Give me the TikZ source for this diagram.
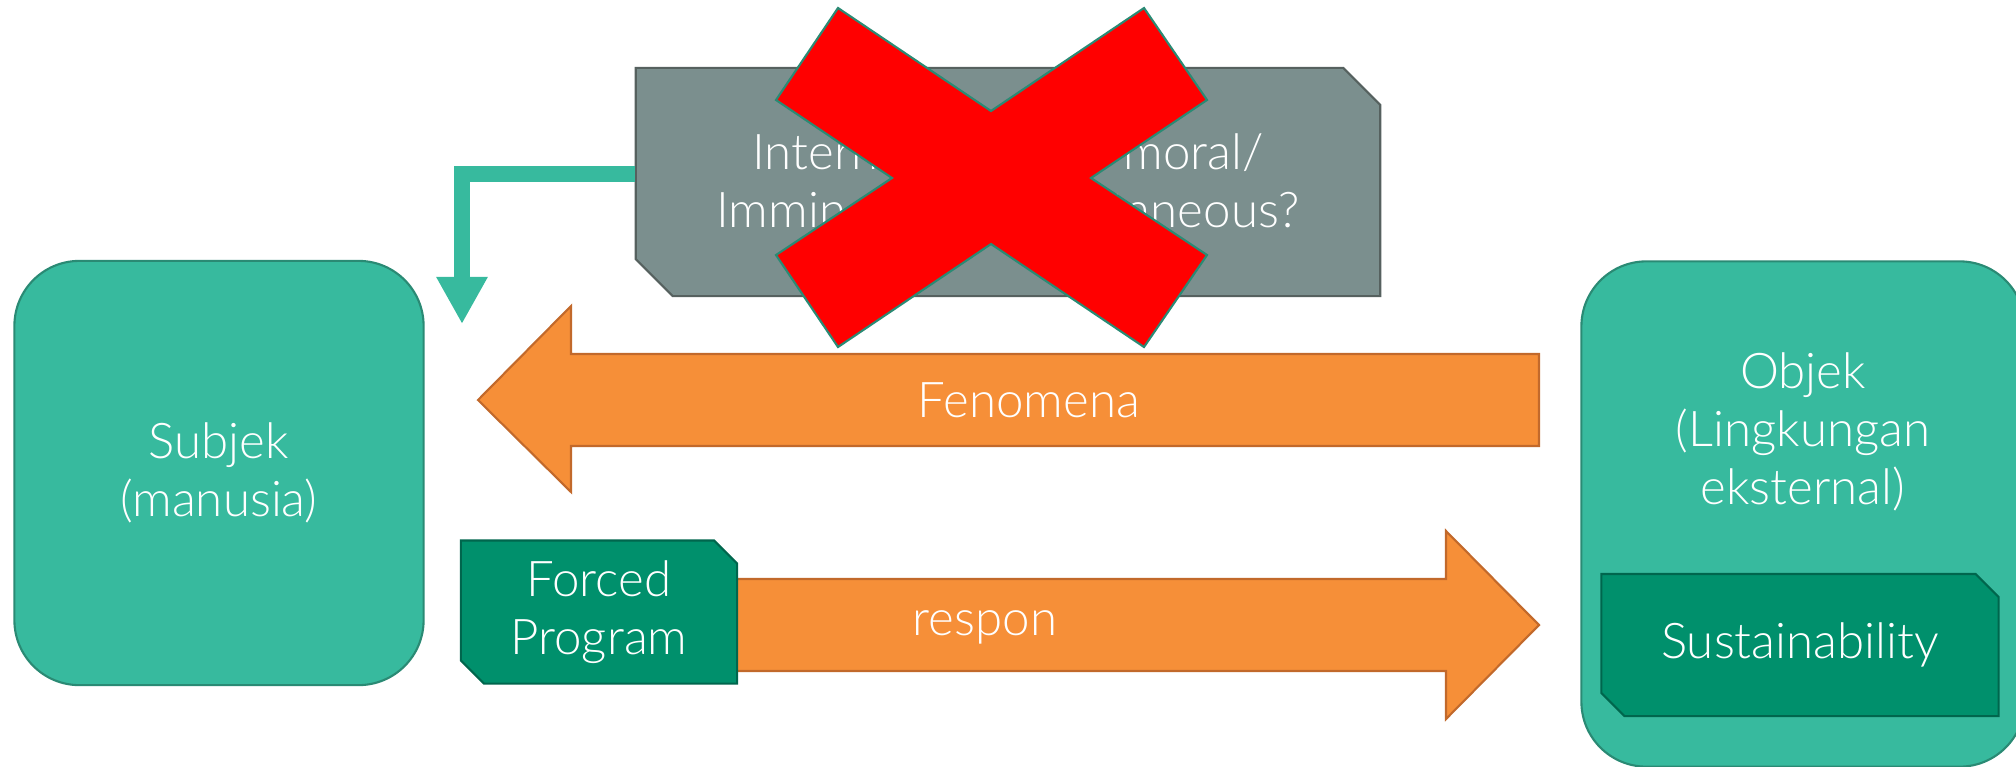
\documentclass[tikz,border=0pt]{standalone}
\usepackage{fontspec}
\setmainfont{Lato}[UprightFont=* Light]
\usetikzlibrary{shapes.misc, arrows.meta, calc}

\definecolor{tosca}{HTML}{37BA9E}
\definecolor{toscaline}{HTML}{2A8A74}
\definecolor{hijau}{HTML}{00906C}
\definecolor{hijauline}{HTML}{00664D}
\definecolor{oranye}{HTML}{F68F38}
\definecolor{oranyeline}{HTML}{C2692B}
\definecolor{abu}{HTML}{7B8F8E}
\definecolor{abuline}{HTML}{56615F}
\definecolor{merah}{HTML}{FF0000}

\begin{document}
\begin{tikzpicture}[x=0.01cm, y=-0.01cm, font=\fontsize{14}{16.5}\selectfont,
    kotak/.style={rectangle, rounded corners=0.65cm, fill=tosca, draw=toscaline, line width=0.6pt, text=white, align=center},
    potong/.style={chamfered rectangle, chamfered rectangle corners={north east, south west}, chamfered rectangle xsep=0.115cm, chamfered rectangle ysep=0.115cm, inner sep=0pt, fill=hijau, draw=hijauline, line width=0.6pt, text=white, align=center},
    panah/.style={fill=oranye, draw=oranyeline, line width=0.6pt},
    teks/.style={text=white, align=center}]
        \useasboundingbox (0,0) rectangle (2016,766);
        \clip (0,0) rectangle (2016,766);

        \node[kotak, minimum width=4.09cm, minimum height=4.24cm] (subjek) at (219,473) {Subjek\\(manusia)};
        \node[kotak, minimum width=4.43cm, minimum height=5.05cm] (objek) at (1803,514) {};
        \node[teks] (objtxt) at (1803,432) {Objek\\(Lingkungan\\eksternal)};
        \node[potong, minimum width=3.97cm, minimum height=1.42cm] (sustain) at (1800,645) {Sustainability};

        % panah fenomena
        \coordinate (fenujung) at (478,400);
        \coordinate (fenpangkal) at (1539,400);
        \draw[panah] (fenujung) -- ++(93,-94) -- ++(0,48) -- ($(fenpangkal)+(0,-46)$) -- ++(0,92) -- ($(fenujung)+(93,46)$) -- ++(0,46) -- cycle;
        \node[teks] (fen) at (1029,400) {Fenomena};

        % panah respon
        \coordinate (respangkal) at (620,625);
        \coordinate (resujung) at (1539,625);
        \draw[panah] ($(respangkal)+(0,-46)$) -- ($(resujung)+(-93,-46)$) -- ++(0,-48) -- (resujung) -- ++(-93,94) -- ++(0,-48) -- ($(respangkal)+(0,46)$) -- cycle;
        \node[teks] (res) at (985,627) {respon};
        \node[potong, minimum width=2.76cm, minimum height=1.43cm] (forced) at (599,612) {Forced\\Program};

        % kotak abu-abu
        \coordinate (turun) at (462,324);
        \node[potong, fill=abu, draw=abuline, chamfered rectangle xsep=0.185cm, chamfered rectangle ysep=0.185cm, minimum width=7.44cm, minimum height=2.28cm] (abu) at (1008,182) {Internalization of moral/\\Imminence/ Instantaneous?};
        \draw[tosca, line width=0.16cm, -{Triangle[width=0.48cm, length=0.47cm]}] ($(abu.west)+(0,-8)$) -| (turun);

        % silang
        \draw[fill=merah, draw=toscaline, line width=0.6pt] (838,8) -- (991,111) -- (1144,8) -- (1207,100) -- (1091,178) -- (1207,255) -- (1144,347) -- (991,244) -- (838,347) -- (776,255) -- (892,178) -- (776,100) -- cycle;
    \end{tikzpicture}
\end{document}
